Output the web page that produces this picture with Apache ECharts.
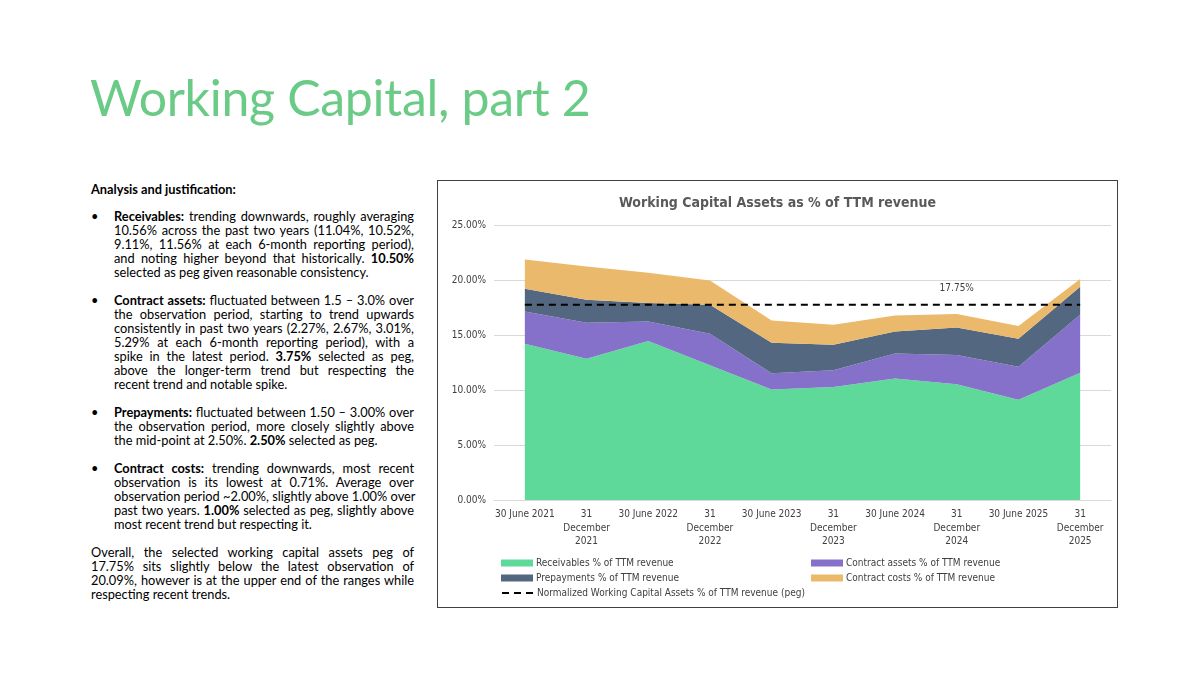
<!DOCTYPE html>
<html lang="en">
<head>
    <meta charset="UTF-8">
    <title>Working Capital, part 2</title>
    <script src="https://cdn.jsdelivr.net/npm/echarts@6/dist/echarts.min.js"></script>
    <style>
        body { margin: 0; width: 1200px; height: 675px; background: #fff; position: relative; overflow: hidden; font-family: Lato, "Noto Sans", sans-serif; color: #000; }
        #title { position: absolute; left: 90px; top: 67px; font-size: 50px; color: #6acb86; font-family: Lato, "Noto Sans", sans-serif; letter-spacing: -0.3px; }
        #notes { position: absolute; left: 91px; top: 182px; width: 323px; font-size: 12.8px; line-height: 14px; }
        #notes .head { font-weight: bold; margin-bottom: 13px; }
        #notes .item { position: relative; padding-left: 23px; margin-bottom: 14px; }
        #notes .item:before { content: "•"; position: absolute; left: 0; top: 0; }
        #notes .j { text-align: justify; text-align-last: justify; white-space: nowrap; }
        #notes .l { white-space: nowrap; }
        #box { position: absolute; left: 437px; top: 180px; width: 679px; height: 426px; border: 1px solid #404040; }
        #main { width: 679px; height: 426px; }
    </style>
</head>
<body>
<div id="title">Working Capital, part 2</div>

<div id="notes">
    <div class="head">Analysis and justification:</div>
    <div class="item">
        <div class="j"><b>Receivables:</b> trending downwards, roughly averaging</div>
        <div class="j">10.56% across the past two years (11.04%, 10.52%,</div>
        <div class="j">9.11%, 11.56% at each 6-month reporting period),</div>
        <div class="j">and noting higher beyond that historically. <b>10.50%</b></div>
        <div class="l">selected as peg given reasonable consistency.</div>
    </div>
    <div class="item">
        <div class="j"><b>Contract assets:</b> fluctuated between 1.5 – 3.0% over</div>
        <div class="j">the observation period, starting to trend upwards</div>
        <div class="j">consistently in past two years (2.27%, 2.67%, 3.01%,</div>
        <div class="j">5.29% at each 6-month reporting period), with a</div>
        <div class="j">spike in the latest period. <b>3.75%</b> selected as peg,</div>
        <div class="j">above the longer-term trend but respecting the</div>
        <div class="l">recent trend and notable spike.</div>
    </div>
    <div class="item">
        <div class="j"><b>Prepayments:</b> fluctuated between 1.50 – 3.00% over</div>
        <div class="j">the observation period, more closely slightly above</div>
        <div class="l">the mid-point at 2.50%. <b>2.50%</b> selected as peg.</div>
    </div>
    <div class="item">
        <div class="j"><b>Contract costs:</b> trending downwards, most recent</div>
        <div class="j">observation is its lowest at 0.71%. Average over</div>
        <div class="j">observation period ~2.00%, slightly above 1.00% over</div>
        <div class="j">past two years. <b>1.00%</b> selected as peg, slightly above</div>
        <div class="l">most recent trend but respecting it.</div>
    </div>
    <div>
        <div class="j">Overall, the selected working capital assets peg of</div>
        <div class="j">17.75% sits slightly below the latest observation of</div>
        <div class="j">20.09%, however is at the upper end of the ranges while</div>
        <div class="l">respecting recent trends.</div>
    </div>
</div>

<div id="box"><div id="main"></div></div>

<script type="text/javascript">
    // reporting dates (x axis)
    var periods = ['30 June 2021', '31\nDecember\n2021', '30 June 2022', '31\nDecember\n2022', '30 June 2023',
        '31\nDecember\n2023', '30 June 2024', '31\nDecember\n2024', '30 June 2025', '31\nDecember\n2025'];

    // % of TTM revenue
    var receivables    = [14.21, 12.85, 14.45, 12.24, 10.04, 10.28, 11.04, 10.52, 9.11, 11.56];
    var contractAssets = [2.93, 3.26, 1.78, 2.88, 1.48, 1.51, 2.27, 2.67, 3.01, 5.29];
    var prepayments    = [2.06, 2.09, 1.67, 2.63, 2.78, 2.33, 2.00, 2.50, 2.54, 2.53];
    var contractCosts  = [2.66, 3.02, 2.75, 2.20, 2.02, 1.81, 1.47, 1.21, 1.15, 0.71];
    var peg            = [17.75, 17.75, 17.75, 17.75, 17.75, 17.75, 17.75, 17.75, 17.75, 17.75];
    var pegLabelIndex  = 7;

    var yTicks = [0, 5, 10, 15, 20, 25];

    var font = '"DejaVu Sans Condensed", "Liberation Sans", Arial, sans-serif';

    function areaSeries(name, data, color) {
        return {
            name: name,
            type: 'line',
            stack: 'wc',
            data: data,
            symbol: 'none',
            lineStyle: { width: 0 },
            areaStyle: { color: color, opacity: 1 },
            itemStyle: { color: color }
        };
    }

    var legendText = { fontFamily: font, fontSize: 10, color: '#404040', padding: [0, 0, 0, -2] };

    var myChart = echarts.init(document.getElementById('main'));
    var option = {
        animation: false,
        title: {
            text: 'Working Capital Assets as % of TTM revenue',
            left: 'center',
            top: 10,
            textStyle: { fontFamily: font, fontSize: 14, fontWeight: 'bold', color: '#595959' }
        },
        grid: { left: 56, right: 6, top: 44, bottom: 107, containLabel: false },
        xAxis: {
            type: 'category',
            data: periods,
            boundaryGap: true,
            axisTick: { show: false },
            axisLine: { lineStyle: { color: '#d9d9d9' } },
            axisLabel: { interval: 0, margin: 8, fontFamily: font, fontSize: 10, lineHeight: 13.5, color: '#404040' }
        },
        yAxis: {
            type: 'value',
            min: yTicks[0],
            max: yTicks[yTicks.length - 1],
            interval: 5,
            axisLine: { show: false },
            axisTick: { show: false },
            splitLine: { lineStyle: { color: '#d9d9d9' } },
            axisLabel: {
                margin: 8, fontFamily: font, fontSize: 10, color: '#404040',
                formatter: function (v) { return v.toFixed(2) + '%'; }
            }
        },
        legend: [
            {
                orient: 'vertical', left: 63, top: 377, itemGap: 5, padding: 0,
                itemWidth: 32, itemHeight: 7, icon: 'rect',
                textStyle: legendText,
                data: ['Receivables % of TTM revenue', 'Prepayments % of TTM revenue']
            },
            {
                orient: 'vertical', left: 373, top: 377, itemGap: 5, padding: 0,
                itemWidth: 32, itemHeight: 7, icon: 'rect',
                textStyle: legendText,
                data: ['Contract assets % of TTM revenue', 'Contract costs % of TTM revenue']
            },
            {
                left: 63, top: 407, padding: 0,
                itemWidth: 32, itemHeight: 7,
                itemStyle: { opacity: 0 },
                lineStyle: { color: '#000', width: 2, type: [7, 5] },
                textStyle: legendText,
                data: ['Normalized Working Capital Assets % of TTM revenue (peg)']
            }
        ],
        series: [
            areaSeries('Receivables % of TTM revenue', receivables, '#5ed99a'),
            areaSeries('Contract assets % of TTM revenue', contractAssets, '#8571c9'),
            areaSeries('Prepayments % of TTM revenue', prepayments, '#536781'),
            areaSeries('Contract costs % of TTM revenue', contractCosts, '#ebb96b'),
            {
                name: 'Normalized Working Capital Assets % of TTM revenue (peg)',
                type: 'line',
                z: 5,
                symbol: 'circle',
                symbolSize: 0,
                showSymbol: true,
                data: peg.map(function (v, i) {
                    return i === pegLabelIndex ? { value: v, label: { show: true } } : v;
                }),
                lineStyle: { color: '#000', width: 2, type: [7, 5] },
                itemStyle: { color: '#000' },
                label: {
                    show: false, position: 'top', distance: 11,
                    fontFamily: font, fontSize: 10, color: '#404040',
                    formatter: function (p) { return p.value.toFixed(2) + '%'; }
                }
            }
        ]
    };
    myChart.setOption(option);
</script>
</body>
</html>
